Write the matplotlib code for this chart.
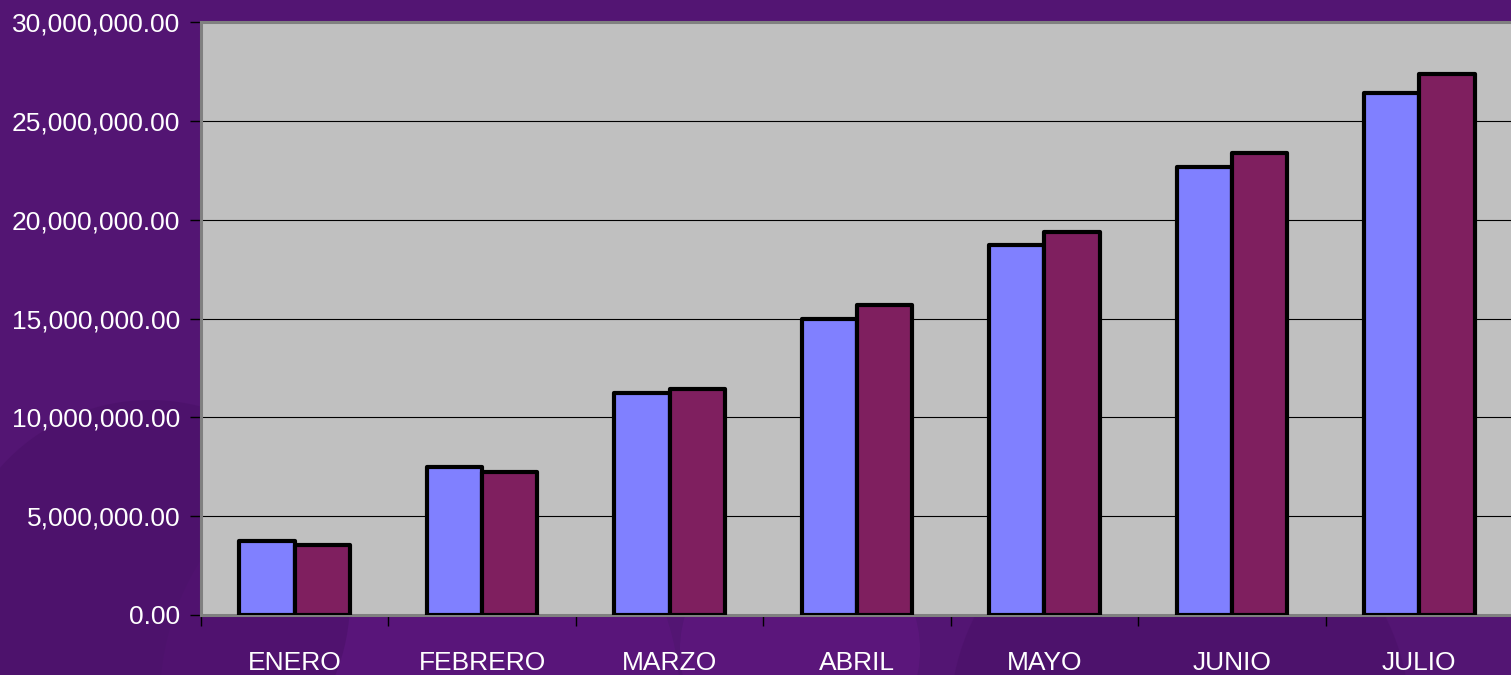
import matplotlib.pyplot as plt
import numpy as np
from matplotlib.ticker import FuncFormatter, FixedLocator

# meses y valores (dos series)
meses = ["ENERO", "FEBRERO", "MARZO", "ABRIL", "MAYO", "JUNIO", "JULIO"]
serie1 = [3740000, 7490000, 11230000, 14970000, 18720000, 22660000, 26410000]
serie2 = [3540000, 7230000, 11430000, 15680000, 19380000, 23370000, 27370000]

col1 = "#8080FF"
col2 = "#7F1F5F"

plt.rcParams['font.family'] = ['Liberation Sans', 'DejaVu Sans']

fig = plt.figure(figsize=(15.11, 6.75), dpi=100)
fig.patch.set_facecolor("#531573")

# fondo decorativo: circulos tenues
bg = fig.add_axes([0, 0, 1, 1], zorder=-10)
bg.set_xlim(0, 1511)
bg.set_ylim(675, 0)
bg.axis("off")
for (cx, cy, r, c) in [(420, 700, 260, "#5E1680"), (1180, 720, 230, "#4A1168"),
                       (150, 600, 200, "#4A1168"), (800, 650, 120, "#611782")]:
    bg.add_patch(plt.Circle((cx, cy), r, color=c, alpha=0.6, lw=0))

ax = fig.add_axes([201 / 1511, 60 / 675, 1312 / 1511, 593 / 675])
ax.set_facecolor("#C0C0C0")

x = np.arange(len(meses))
w = 0.295
ax.bar(x - w / 2, serie1, w, color=col1, edgecolor="black", linewidth=3,
       joinstyle="round", zorder=3)
ax.bar(x + w / 2, serie2, w, color=col2, edgecolor="black", linewidth=3,
       joinstyle="round", zorder=3)

ax.set_xlim(-0.5, len(meses) - 0.5)
ax.set_ylim(0, 30000000)
ax.set_yticks(np.arange(0, 30000001, 5000000))
ax.yaxis.set_major_formatter(FuncFormatter(lambda v, p: f"{v:,.2f}"))
ax.grid(axis="y", color="black", linewidth=0.8, zorder=1)

ax.set_xticks(x)
ax.set_xticklabels(meses)
ax.xaxis.set_minor_locator(FixedLocator(np.arange(-0.5, len(meses), 1.0)))
ax.tick_params(axis="x", which="major", length=0, pad=26, labelsize=19, labelcolor="white")
ax.tick_params(axis="x", which="minor", length=8, width=1, color="black", direction="out")
ax.tick_params(axis="y", length=8, width=1, color="black", pad=7, labelsize=19,
               labelcolor="white")

for s in ["top", "left", "bottom"]:
    ax.spines[s].set_color("#808080")
    ax.spines[s].set_linewidth(2.2)
ax.spines["right"].set_visible(False)

plt.savefig("out.png", dpi=100, facecolor=fig.get_facecolor())
